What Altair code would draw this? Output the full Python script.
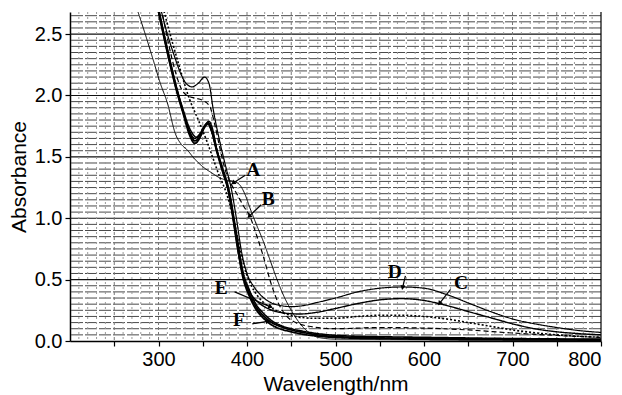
import math
import altair as alt
import pandas as pd
import numpy as np

# ---------------- data ----------------
A_wl = [275, 285, 294, 302, 310, 319, 326, 332, 340, 350, 360, 369, 377, 385, 392, 398, 403, 410, 418, 426, 434, 442, 450, 458, 465, 472, 480, 500, 600, 800]
A_ab = [2.72, 2.5, 2.29, 2.1, 1.94, 1.69, 1.6, 1.56, 1.49, 1.42, 1.37, 1.33, 1.31, 1.3, 1.27, 1.19, 1.09, 0.96, 0.82, 0.66, 0.50, 0.36, 0.25, 0.16, 0.10, 0.06, 0.03, 0.015, 0.01, 0.005]

B_wl = [303, 312, 320, 326, 332, 340, 350, 358, 364, 370, 376, 382, 390, 396, 403, 410, 418, 428, 436, 445, 455, 470, 500, 550, 600, 650, 700, 750, 800]
B_ab = [2.72, 2.4, 2.17, 2.05, 2.0, 1.98, 1.96, 1.91, 1.75, 1.55, 1.38, 1.28, 1.18, 1.1, 1.02, 0.88, 0.7, 0.45, 0.3, 0.2, 0.15, 0.12, 0.1, 0.11, 0.105, 0.09, 0.065, 0.045, 0.03]

C_wl = [300, 310, 320, 328, 336, 343, 349, 353, 357, 361, 366, 372, 378, 384, 390, 396, 403, 412, 425, 440, 460, 480, 500, 525, 550, 575, 600, 625, 650, 675, 700, 725, 750, 775, 800]
C_ab = [2.72, 2.38, 2.08, 1.88, 1.72, 1.66, 1.7, 1.76, 1.79, 1.73, 1.56, 1.4, 1.25, 1.0, 0.72, 0.52, 0.4, 0.32, 0.26, 0.23, 0.22, 0.235, 0.265, 0.305, 0.335, 0.345, 0.33, 0.29, 0.24, 0.19, 0.14, 0.10, 0.075, 0.06, 0.05]

D_wl = [302, 310, 318, 325, 331, 338, 345, 352, 357, 362, 370, 376, 382, 388, 394, 400, 408, 416, 425, 437, 450, 465, 480, 500, 525, 550, 575, 600, 625, 650, 675, 700, 725, 750, 775, 800]
D_ab = [2.72, 2.5, 2.32, 2.18, 2.1, 2.07, 2.1, 2.15, 2.1, 1.88, 1.6, 1.42, 1.25, 1.0, 0.72, 0.55, 0.44, 0.37, 0.32, 0.29, 0.28, 0.29, 0.315, 0.35, 0.40, 0.43, 0.44, 0.43, 0.38, 0.31, 0.24, 0.18, 0.14, 0.11, 0.085, 0.07]

E_wl = [305, 315, 325, 335, 345, 355, 362, 369, 376, 383, 390, 397, 405, 415, 425, 440, 455, 475, 500, 525, 550, 575, 600, 625, 650, 675, 700, 750, 800]
E_ab = [2.72, 2.45, 2.2, 1.97, 1.8, 1.62, 1.48, 1.34, 1.22, 1.05, 0.82, 0.6, 0.45, 0.34, 0.28, 0.23, 0.2, 0.185, 0.185, 0.2, 0.21, 0.21, 0.2, 0.18, 0.15, 0.12, 0.09, 0.05, 0.03]

F_wl = [299, 310, 320, 328, 335, 341, 347, 352, 356, 360, 366, 372, 380, 388, 395, 403, 410, 418, 428, 437, 450, 463, 480, 502, 550, 600, 700, 800]
F1_ab = [2.72, 2.35, 2.05, 1.85, 1.68, 1.61, 1.66, 1.75, 1.78, 1.72, 1.55, 1.4, 1.2, 0.85, 0.55, 0.38, 0.28, 0.21, 0.15, 0.12, 0.09, 0.07, 0.05, 0.035, 0.025, 0.02, 0.015, 0.01]
F2_ab = [2.72, 2.38, 2.07, 1.87, 1.71, 1.65, 1.69, 1.75, 1.77, 1.71, 1.55, 1.42, 1.22, 0.88, 0.58, 0.41, 0.30, 0.23, 0.165, 0.13, 0.10, 0.08, 0.06, 0.045, 0.035, 0.03, 0.02, 0.015]
F3_ab = [2.72, 2.36, 2.06, 1.86, 1.70, 1.63, 1.67, 1.74, 1.77, 1.71, 1.54, 1.39, 1.19, 0.83, 0.53, 0.36, 0.26, 0.19, 0.13, 0.10, 0.075, 0.055, 0.04, 0.028, 0.02, 0.015, 0.01, 0.008]

# annotation labels (text position, arrow tail, arrow head) in data units
lab_text = ["A", "B", "C", "D", "E", "F"]
lab_x = [407, 424, 642, 567, 371, 391]
lab_y = [1.39, 1.16, 0.47, 0.56, 0.43, 0.17]
arr_x0 = [398, 416, 630, 579, 386, 406]
arr_y0 = [1.35, 1.11, 0.42, 0.53, 0.40, 0.14]
arr_x1 = [385, 403, 618, 576, 426, 423]
arr_y1 = [1.29, 1.02, 0.31, 0.44, 0.28, 0.16]

# ---------------- layout ----------------
W, H = 531, 329
XMIN, XMAX = 200, 800
YMIN, YMAX = 0, 2.68
FONT = "Liberation Sans"

curves = [
    ("A", A_wl, A_ab, 1.0, [1, 0]),
    ("B", B_wl, B_ab, 1.2, [5, 3]),
    ("C", C_wl, C_ab, 1.4, [1, 0]),
    ("D", D_wl, D_ab, 1.2, [1, 0]),
    ("E", E_wl, E_ab, 1.6, [2, 2]),
    ("F1", F_wl, F1_ab, 1.8, [1, 0]),
    ("F2", F_wl, F2_ab, 1.6, [1, 0]),
    ("F3", F_wl, F3_ab, 1.8, [1, 0]),
]

xs = alt.Scale(domain=[XMIN, XMAX], nice=False, zero=False)
ys = alt.Scale(domain=[YMIN, YMAX], nice=False, zero=False)

# grid
hgrid = pd.DataFrame({"g": np.round(np.arange(0.05, YMAX, 0.05), 3)})
hgrid["major"] = (np.round(hgrid["g"] * 100) % 50 == 0)
vgrid = pd.DataFrame({"g": np.arange(210, 800, 10)})
vgrid["major"] = (vgrid["g"] % 50 == 0)

hminor = alt.Chart(hgrid[~hgrid.major]).mark_rule(color="#4a4a4a", strokeWidth=1, strokeDash=[12, 2]).encode(
    y=alt.Y("g:Q", scale=ys))
hmajor = alt.Chart(hgrid[hgrid.major]).mark_rule(color="#111", strokeWidth=1.2).encode(
    y=alt.Y("g:Q", scale=ys))
vminor = alt.Chart(vgrid[~vgrid.major]).mark_rule(color="#9a9a9a", strokeWidth=1, strokeDash=[2, 3]).encode(
    x=alt.X("g:Q", scale=xs))
vmajor = alt.Chart(vgrid[vgrid.major]).mark_rule(color="#777", strokeWidth=1, strokeDash=[3, 2]).encode(
    x=alt.X("g:Q", scale=xs))
rborder = alt.Chart(pd.DataFrame({"g": [XMAX]})).mark_rule(color="#000", strokeWidth=1.2).encode(
    x=alt.X("g:Q", scale=xs))

layers = [hminor, hmajor, vminor, vmajor, rborder]

first = True
for name, wl, ab, sw, dash in curves:
    df = pd.DataFrame({"wl": wl, "ab": ab})
    enc_x = alt.X("wl:Q", scale=xs,
                  axis=alt.Axis(title="Wavelength/nm", values=list(range(250, 801, 50)),
                                labelExpr="datum.value % 100 == 0 ? datum.label : ''",
                                grid=False, tickSize=5, labelPadding=3, titlePadding=4)) if first else alt.X("wl:Q", scale=xs)
    enc_y = alt.Y("ab:Q", scale=ys,
                  axis=alt.Axis(title="Absorbance", values=[0, 0.5, 1.0, 1.5, 2.0, 2.5], format=".1f",
                                grid=False, tickSize=5, labelPadding=3, titlePadding=5)) if first else alt.Y("ab:Q", scale=ys)
    first = False
    layers.append(
        alt.Chart(df).mark_line(color="#000", strokeWidth=sw, strokeDash=dash, interpolate="monotone", clip=True)
        .encode(x=enc_x, y=enc_y)
    )

ann = pd.DataFrame({"t": lab_text, "x": lab_x, "y": lab_y,
                    "x0": arr_x0, "y0": arr_y0, "x1": arr_x1, "y1": arr_y1})
px = W / (XMAX - XMIN)
py = H / (YMAX - YMIN)
ann["ang"] = [
    (math.degrees(math.atan2((x1 - x0) * px, (y1 - y0) * py)) + 360) % 360
    for x0, y0, x1, y1 in zip(arr_x0, arr_y0, arr_x1, arr_y1)
]

arrows = alt.Chart(ann).mark_rule(color="#000", strokeWidth=1.2).encode(
    x=alt.X("x0:Q", scale=xs), y=alt.Y("y0:Q", scale=ys), x2="x1:Q", y2="y1:Q")
heads = alt.Chart(ann).mark_point(shape="triangle", filled=True, color="#000", size=28, opacity=1).encode(
    x=alt.X("x1:Q", scale=xs), y=alt.Y("y1:Q", scale=ys), angle=alt.Angle("ang:Q", scale=None))
texts = alt.Chart(ann).mark_text(font="Liberation Serif", fontWeight="bold", fontSize=19.5, color="#000").encode(
    x=alt.X("x:Q", scale=xs), y=alt.Y("y:Q", scale=ys), text="t:N")

layers += [arrows, heads, texts]

chart = alt.layer(*layers).properties(
    width=W, height=H,
    autosize=alt.AutoSizeParams(type="none"),
    padding={"left": 70, "top": 12, "right": 21, "bottom": 54},
    background="white",
).configure_view(strokeWidth=0).configure_axis(
    labelFont=FONT, titleFont=FONT, labelFontSize=20, titleFontSize=21,
    titleFontWeight="normal", labelColor="#000", titleColor="#000",
    domainColor="#000", domainWidth=1.5, tickColor="#000", tickWidth=1.2,
)

chart.save("out.html", embed_options={"renderer": "svg", "actions": False})
